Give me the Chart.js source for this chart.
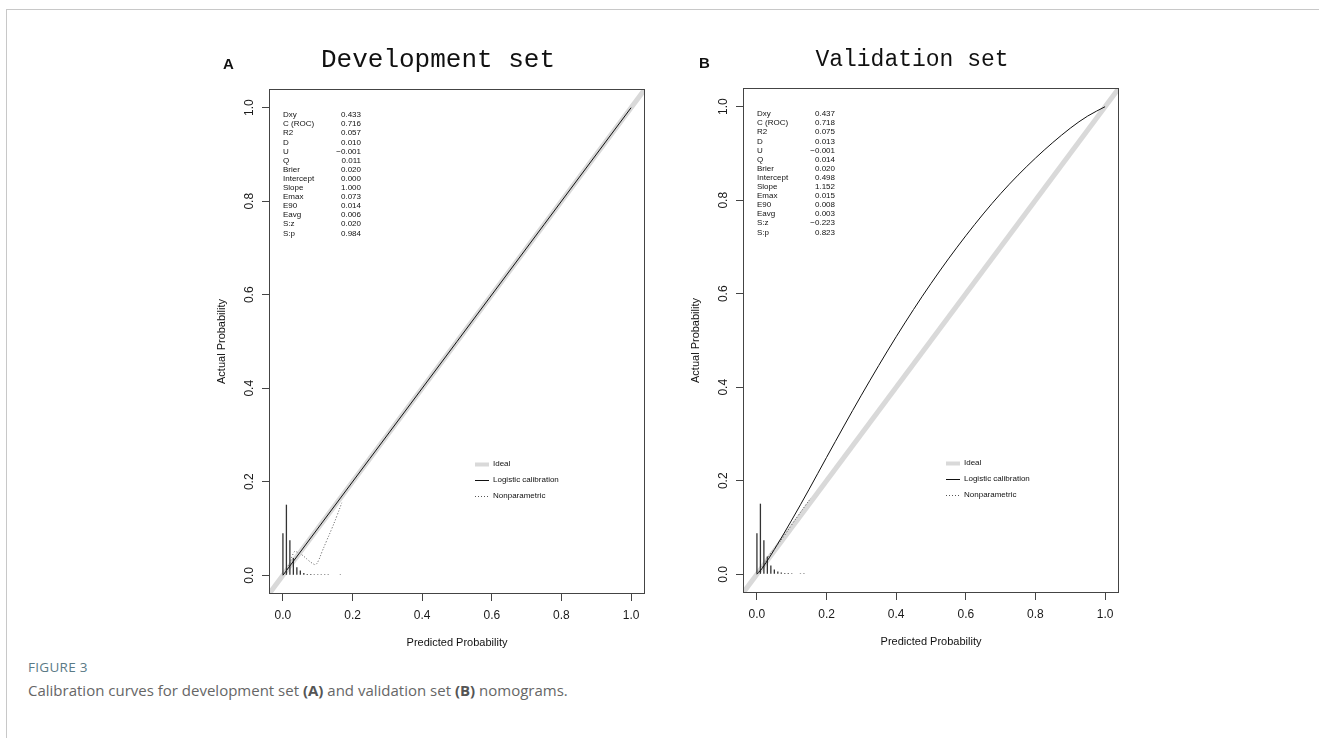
<!DOCTYPE html>
<html>
<head>
<meta charset="utf-8">
<script src="https://cdn.jsdelivr.net/npm/chart.js@4.4.1/dist/chart.umd.min.js"></script>
<style>
html,body{margin:0;padding:0;background:#fff;}
body{width:1319px;height:738px;overflow:hidden;position:relative;font-family:"Liberation Sans",Arial,sans-serif;}
#frame{position:absolute;left:6px;top:9px;width:1400px;height:800px;border-top:1px solid #c8c8c8;border-left:1px solid #c8c8c8;}
.panel{position:absolute;width:480px;height:650px;}
#pa{left:180px;top:20px;}
#pb{left:654px;top:19px;}
.fig{position:absolute;left:28px;top:658px;font-family:"Open Sans",sans-serif;font-size:13.5px;line-height:18px;color:#5a7a86;letter-spacing:0.3px;}
.cap{position:absolute;left:28px;top:680px;font-family:"Open Sans",sans-serif;font-size:15px;line-height:20px;color:#666;}
.cap b{font-weight:700;color:#555;}
</style>
</head>
<body>
<div id="frame"></div>
<div class="panel" id="pa"><canvas id="cA" width="480" height="650"></canvas></div>
<div class="panel" id="pb"><canvas id="cB" width="480" height="650"></canvas></div>
<div class="fig">FIGURE 3</div>
<div class="cap">Calibration curves for development set <b>(A)</b> and validation set <b>(B)</b> nomograms.</div>
<script>
// ---------- data ----------
const tickValues = [0, 0.2, 0.4, 0.6, 0.8, 1.0];
const axisMin = -0.04;
const axisMax = 1.04;

const idealX = [-0.04, 1.04];
const idealY = [-0.04, 1.04];

const statNames = ["Dxy", "C (ROC)", "R2", "D", "U", "Q", "Brier", "Intercept", "Slope", "Emax", "E90", "Eavg", "S:z", "S:p"];
const devStats = ["0.433", "0.716", "0.057", "0.010", "\u22120.001", "0.011", "0.020", "0.000", "1.000", "0.073", "0.014", "0.006", "0.020", "0.984"];
const valStats = ["0.437", "0.718", "0.075", "0.013", "\u22120.001", "0.014", "0.020", "0.498", "1.152", "0.015", "0.008", "0.003", "\u22120.223", "0.823"];

const legendLabels = ["Ideal", "Logistic calibration", "Nonparametric"];

// Development set (A)
const devLogisticX = [0, 0.25, 0.5, 0.75, 1.0];
const devLogisticY = [0, 0.25, 0.5, 0.75, 1.0];
const devNonparX = [0.008, 0.015, 0.022, 0.028, 0.034, 0.042, 0.054, 0.064, 0.073, 0.084, 0.094, 0.103, 0.111, 0.125, 0.14, 0.155, 0.169];
const devNonparY = [0.008, 0.018, 0.031, 0.044, 0.051, 0.049, 0.044, 0.038, 0.032, 0.026, 0.023, 0.033, 0.048, 0.073, 0.099, 0.127, 0.155];
const devSpikeX = [0, 0.01, 0.02, 0.03, 0.04, 0.05, 0.06, 0.07, 0.08, 0.09, 0.10, 0.11, 0.12, 0.13, 0.165];
const devSpikeY = [0.09, 0.151, 0.075, 0.037, 0.017, 0.010, 0.005, 0.003, 0.003, 0.002, 0.002, 0.002, 0.002, 0.002, 0.002];

// Validation set (B)
const valLogisticX = [0, 0.01, 0.02, 0.05, 0.1, 0.15, 0.2, 0.3, 0.4, 0.5, 0.6, 0.7, 0.8, 0.9, 0.95, 1.0];
const valLogisticY = [0, 0.008, 0.018, 0.053, 0.116, 0.182, 0.25, 0.383, 0.508, 0.622, 0.724, 0.814, 0.89, 0.954, 0.98, 1.0];
const valNonparX = [0.005, 0.02, 0.04, 0.06, 0.08, 0.1, 0.12, 0.14, 0.155];
const valNonparY = [0.006, 0.022, 0.045, 0.064, 0.084, 0.106, 0.127, 0.148, 0.163];
const valSpikeX = [0, 0.01, 0.02, 0.03, 0.04, 0.05, 0.06, 0.07, 0.08, 0.09, 0.10, 0.125, 0.135];
const valSpikeY = [0.088, 0.151, 0.073, 0.038, 0.019, 0.010, 0.006, 0.004, 0.003, 0.003, 0.002, 0.002, 0.002];

// ---------- helpers ----------
const zip = (xs, ys) => xs.map((x, i) => ({x: x, y: ys[i]}));
const FONT = '"Liberation Sans", Arial, sans-serif';

const panelDecor = {
  id: 'panelDecor',
  afterDraw(chart, args, o) {
    const {ctx, chartArea: a} = chart;
    ctx.save();
    // box
    ctx.strokeStyle = '#444';
    ctx.lineWidth = 1;
    ctx.strokeRect(a.left + 0.5, a.top + 0.5, a.right - a.left - 1, a.bottom - a.top - 1);
    // title
    ctx.fillStyle = '#111';
    ctx.textBaseline = 'alphabetic';
    ctx.textAlign = 'center';
    ctx.font = o.titleSize + 'px "Liberation Mono", monospace';
    ctx.fillText(o.title, o.titleX, o.titleY);
    // panel letter
    ctx.textAlign = 'left';
    ctx.font = 'bold 15px ' + FONT;
    ctx.fillText(o.letter, o.letterX, o.letterY);
    // stats
    ctx.fillStyle = '#111';
    ctx.font = '8px ' + FONT;
    ctx.textBaseline = 'middle';
    o.stats.forEach((v, i) => {
      const yy = a.top + o.statTop + i * o.statStep;
      ctx.textAlign = 'left';
      ctx.fillText(statNames[i], a.left + o.statNameX, yy);
      ctx.textAlign = 'right';
      ctx.fillText(v, a.left + o.statValX, yy);
    });
    // legend
    const lx0 = a.left + o.legX0, lx1 = a.left + o.legX1;
    const styles = [
      {c: '#d9d9d9', w: 4, d: []},
      {c: '#111', w: 1, d: []},
      {c: '#555', w: 1, d: [1, 2]}
    ];
    legendLabels.forEach((lab, i) => {
      const yy = a.top + o.legTop + i * o.legStep;
      ctx.beginPath();
      ctx.strokeStyle = styles[i].c;
      ctx.lineWidth = styles[i].w;
      ctx.setLineDash(styles[i].d);
      ctx.moveTo(lx0, yy + 0.5);
      ctx.lineTo(lx1, yy + 0.5);
      ctx.stroke();
      ctx.setLineDash([]);
      ctx.textAlign = 'left';
      ctx.fillStyle = '#111';
      ctx.fillText(lab, a.left + o.legTextX, yy);
    });
    ctx.restore();
  }
};

function makeChart(id, d, decor) {
  return new Chart(document.getElementById(id), {
    type: 'scatter',
    data: {
      datasets: [
        {type: 'line', label: 'Nonparametric', data: zip(d.npX, d.npY), borderColor: '#555', borderWidth: 1,
         borderDash: [1, 2], pointRadius: 0, tension: 0.4, fill: false, order: 1},
        {type: 'line', label: 'Logistic calibration', data: zip(d.lgX, d.lgY), borderColor: '#111', borderWidth: 1,
         pointRadius: 0, cubicInterpolationMode: 'monotone', fill: false, order: 2},
        {type: 'bar', label: 'Spikes', data: zip(d.spX, d.spY), backgroundColor: '#333', barThickness: 1.3,
         inflateAmount: 0, borderWidth: 0, order: 3},
        {type: 'line', label: 'Ideal', data: zip(idealX, idealY), borderColor: '#d9d9d9', borderWidth: 5,
         pointRadius: 0, fill: false, order: 4}
      ]
    },
    options: {
      responsive: false,
      animation: false,
      devicePixelRatio: 1,
      layout: {padding: {left: 0, top: 69, right: 15, bottom: 0}},
      plugins: {legend: {display: false}, tooltip: {enabled: false}, panelDecor: decor},
      scales: {
        x: {
          type: 'linear', min: axisMin, max: axisMax, offset: false,
          afterBuildTicks: s => { s.ticks = tickValues.map(v => ({value: v})); },
          afterFit: s => { s.height = 76; },
          grid: {display: true, drawOnChartArea: false, drawTicks: true, tickLength: 7, color: '#444', offset: false},
          border: {display: false},
          ticks: {font: {family: FONT, size: 12}, color: '#1a1a1a', padding: 7, maxRotation: 0, autoSkip: false,
                  callback: v => Number(v).toFixed(1)},
          title: {display: true, text: 'Predicted Probability', font: {family: FONT, size: 11}, color: '#111',
                  padding: {top: 0, bottom: 20}}
        },
        y: {
          type: 'linear', min: axisMin, max: axisMax,
          afterBuildTicks: s => { s.ticks = tickValues.map(v => ({value: v})); },
          afterFit: s => { s.width = 89; },
          grid: {display: true, drawOnChartArea: false, drawTicks: true, tickLength: 7, color: '#444'},
          border: {display: false},
          ticks: {font: {family: FONT, size: 12}, color: '#1a1a1a', padding: 4, minRotation: 90, maxRotation: 90,
                  crossAlign: 'center', autoSkip: false, callback: v => Number(v).toFixed(1)},
          title: {display: true, text: 'Actual Probability', font: {family: FONT, size: 11}, color: '#111',
                  padding: {top: 35, bottom: 0}}
        }
      }
    },
    plugins: [panelDecor]
  });
}

const baseDecor = {statNameX: 14, statValX: 92, statTop: 26, statStep: 9.1,
                   legX0: 206, legX1: 220, legTextX: 224, legTop: 375, legStep: 16,
                   titleX: 258, titleY: 47, letterX: 43, letterY: 49};

makeChart('cA', {lgX: devLogisticX, lgY: devLogisticY, npX: devNonparX, npY: devNonparY, spX: devSpikeX, spY: devSpikeY},
  Object.assign({}, baseDecor, {title: 'Development set', titleSize: 26, letter: 'A', stats: devStats}));
makeChart('cB', {lgX: valLogisticX, lgY: valLogisticY, npX: valNonparX, npY: valNonparY, spX: valSpikeX, spY: valSpikeY},
  Object.assign({}, baseDecor, {title: 'Validation set', titleSize: 23, letter: 'B', stats: valStats, letterX: 45, legX0: 203, legX1: 217, legTextX: 221}));
</script>
</body>
</html>
